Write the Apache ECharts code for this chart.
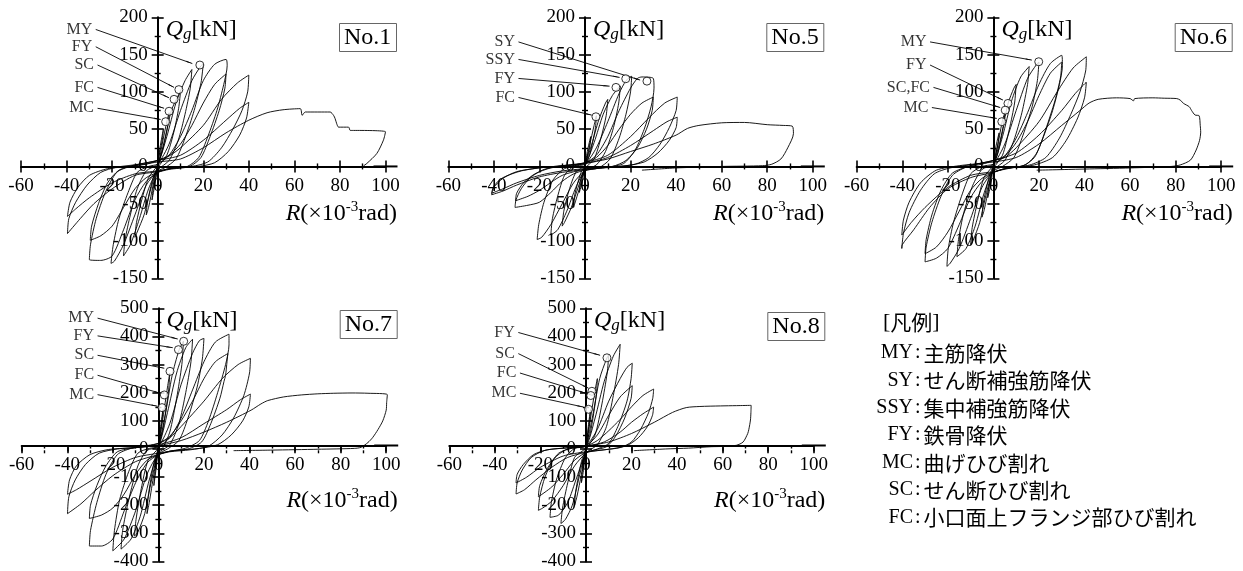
<!DOCTYPE html>
<html><head><meta charset="utf-8">
<script src="https://cdn.jsdelivr.net/npm/echarts@6/dist/echarts.min.js"></script>
<style>html,body{margin:0;padding:0;background:#fff}#c{width:1243px;height:571px}</style>
</head><body><div id="c"></div>
<script>
// ---------- axis settings ----------
const X_MIN = -60, X_MAX = 100, X_STEP = 20;
const Y_TOP = {min:-150, max:200, step:50};
const Y_BOTTOM = {min:-400, max:500, step:100};

// ---------- hysteresis paths (R [x1e-3 rad], Qg [kN]) ----------
const loopNo1 = [[0,0],[1,25],[2.5,50],[2,35],[0,5],[-1,-20],[-2.5,-45],[-2,-30],[0,-3],
[2,30],[4,60],[5,72],[4.5,55],[2,20],[0,2],[-2,-25],[-4,-55],[-5,-65],[-4.5,-48],[-2,-15],[0,0],
[3,35],[6,75],[9,95],[10,100],[9.2,78],[7,45],[4,15],[0,-2],[-3,-30],[-6,-65],[-9,-88],[-10,-95],[-9.3,-75],[-7,-45],[-4,-15],[0,2],
[4,40],[8,85],[12,115],[15,130],[14.3,105],[12,70],[9,35],[5,8],[0,-5],[-4,-30],[-8,-70],[-12,-105],[-15,-120],[-14.3,-98],[-12,-65],[-9,-30],[-5,-6],[0,3],
[5,30],[10,75],[15,115],[19,135],[20,137],[19,112],[16,75],[12,38],[8,10],[3,-2],[0,-6],[-5,-25],[-10,-65],[-15,-105],[-19,-127],[-20.5,-130],[-19.5,-105],[-17,-70],[-13,-35],[-9,-8],[-4,0],[0,3],
[5,15],[10,40],[15,75],[20,115],[25,137],[30,143.5],[30.5,135],[29,110],[26,75],[22,40],[18,12],[13,0],[5,-3],[0,-8],[-5,-20],[-10,-45],[-15,-85],[-20,-120],[-25,-126],[-30,-125],[-29.5,-105],[-27,-70],[-23,-35],[-18,-8],[-12,0],[-5,3],[0,8],
[5,15],[10,30],[15,55],[20,85],[25,110],[30,124],[29.5,105],[27,75],[23,40],[19,12],[14,0],[5,-4],[0,-8],[-5,-15],[-10,-30],[-15,-55],[-20,-80],[-25,-93],[-29.6,-99],[-29,-80],[-26,-50],[-22,-22],[-17,-5],[-10,2],[0,8],
[5,14],[10,25],[20,55],[28,90],[35,112],[40,122.5],[39.5,100],[37,75],[33,50],[28,25],[22,6],[15,0],[5,-3],[0,-7],[-10,-12],[-20,-30],[-28,-50],[-34,-70],[-39.6,-90],[-39,-70],[-36,-48],[-31,-25],[-25,-8],[-18,-1],[-8,3],[0,8],
[10,15],[20,35],[30,62],[36,78],[40,86],[39,65],[36,42],[31,20],[25,5],[18,0],[8,-2],[0,-6],[-10,-10],[-20,-22],[-30,-42],[-36,-57],[-39.6,-67],[-38.5,-48],[-35,-28],[-30,-12],[-22,-3],[-12,0],[0,6],
[10,10],[20,25],[30,45],[40,62],[48,72],[55,76],[62.6,77.5],[63.4,68.5],[64.8,73],[75.7,73],[77.2,68.5],[77.9,64],[78.6,57.2],[79.4,52.7],[83.8,52.7],[84.5,48.3],[86,48.3],[100,46.5],[99.1,35.3],[96.2,17.4],[91.8,4],[90.4,0.9]];

const loopNo5 = [[0,0],[1,20],[2.5,40],[2,25],[0,3],[-1,-18],[-2.5,-35],[-2,-20],[0,0],
[2,28],[4,55],[5,68],[4.5,50],[2,15],[0,0],[-2,-25],[-4,-45],[-5,-55],[-4.5,-38],[-2,-10],[0,2],
[3,30],[6,62],[9,85],[10,90],[9.3,68],[7,38],[4,10],[0,-3],[-3,-28],[-6,-55],[-9,-75],[-10,-80],[-9.3,-60],[-7,-32],[-4,-8],[0,2],
[4,32],[8,70],[12,95],[15.5,108],[14.8,85],[12.5,52],[9,20],[5,2],[0,-5],[-4,-28],[-8,-60],[-12,-85],[-15,-92],[-14.3,-70],[-12,-40],[-9,-12],[-5,0],[0,3],
[5,25],[10,60],[15,98],[18,115],[20.5,121],[20,100],[18,70],[15,38],[11,10],[6,-2],[0,-6],[-5,-22],[-10,-50],[-15,-78],[-19,-95],[-21,-98],[-20.3,-78],[-18,-48],[-14,-18],[-9,-3],[-3,2],[0,4],
[5,15],[10,40],[15,75],[20,105],[23,118],[25,120],[30,118],[30.3,105],[29,80],[26,50],[22,22],[17,4],[10,-1],[0,-5],[-5,-10],[-10,-20],[-15,-35],[-20,-48],[-25,-52],[-30.7,-55],[-30.3,-45],[-28,-30],[-24,-15],[-18,-4],[-10,1],[0,5],
[5,12],[10,28],[15,50],[20,70],[25,85],[30,93],[29.5,75],[27,50],[23,25],[18,8],[12,0],[0,-4],[-10,-12],[-20,-32],[-25,-40],[-30.5,-46],[-30,-36],[-27,-22],[-22,-10],[-15,-2],[-5,2],[0,5],
[10,15],[20,40],[28,65],[35,85],[40.5,93],[40,75],[37,52],[33,30],[28,12],[22,3],[12,-1],[0,-4],[-10,-8],[-20,-14],[-30,-25],[-36,-33],[-41,-38],[-40,-28],[-36,-16],[-30,-7],[-20,-2],[-10,1],[0,4],
[10,12],[20,28],[30,48],[36,60],[40.5,66],[40,52],[37,35],[32,18],[26,6],[18,1],[8,-1],[0,-3],[-10,-6],[-20,-12],[-30,-22],[-36,-30],[-41,-36],[-40,-26],[-36,-15],[-28,-6],[-18,-1],[-8,1],[0,4],
[10,10],[20,20],[30,30],[40,42],[45,51],[50,55],[60,58.5],[70,59],[80,56],[87,55],[91,54],[91.5,44],[89,25],[86,10],[82,3],[78,1],[60,0],[40,-2],[25,-5]];

const loopNo6 = [[0,0],[1,25],[2.5,45],[2,30],[0,3],[-1,-22],[-2.5,-42],[-2,-27],[0,0],
[2,30],[4,62],[5,72],[4.5,55],[2,18],[0,0],[-2,-28],[-4,-58],[-5,-68],[-4.5,-50],[-2,-15],[0,2],
[3,35],[6.5,85],[9,105],[10,110],[9.3,85],[7,50],[4,15],[0,-3],[-3,-35],[-6,-75],[-9,-100],[-10,-105],[-9.3,-82],[-7,-48],[-4,-14],[0,2],
[4,40],[8,88],[12,120],[15.7,134],[15,110],[12.5,72],[9,35],[5,8],[0,-5],[-4,-35],[-8,-80],[-12,-110],[-16,-121],[-15.3,-98],[-13,-62],[-9,-25],[-5,-4],[0,3],
[5,30],[10,75],[15,118],[19,137],[20,140],[19.3,115],[17,80],[13,42],[9,12],[4,0],[0,-6],[-5,-28],[-10,-70],[-15,-110],[-19,-130],[-20.4,-134],[-19.8,-110],[-17.5,-75],[-14,-40],[-10,-10],[-5,0],[0,3],
[5,14],[10,38],[15,72],[20,110],[25,138],[30,149],[30.3,135],[29,110],[26,75],[22,40],[18,12],[13,1],[5,-3],[0,-8],[-5,-20],[-10,-42],[-15,-78],[-20,-110],[-25,-123],[-30,-128],[-29.5,-108],[-27,-75],[-23,-40],[-18,-12],[-12,-1],[-5,3],[0,8],
[5,14],[10,32],[15,60],[20,95],[25,125],[30,140],[29.5,120],[27,88],[23,50],[19,18],[14,2],[5,-3],[0,-8],[-5,-16],[-10,-32],[-15,-60],[-20,-88],[-25,-108],[-30,-117],[-29.5,-98],[-27,-65],[-23,-32],[-18,-9],[-10,1],[0,8],
[5,12],[10,25],[20,60],[28,100],[35,132],[40.8,147],[40.5,128],[38,100],[34,70],[29,38],[23,12],[16,2],[5,-3],[0,-8],[-10,-15],[-20,-30],[-28,-55],[-35,-85],[-40,-105],[-40.2,-110],[-39.5,-90],[-37,-62],[-32,-32],[-26,-10],[-19,-2],[-8,3],[0,8],
[10,18],[20,42],[30,75],[36,98],[40.8,113],[40,92],[37,65],[32,35],[26,12],[18,2],[8,-2],[0,-7],[-10,-12],[-20,-28],[-30,-55],[-36,-75],[-40.2,-92],[-39.5,-72],[-37,-48],[-32,-22],[-25,-5],[-15,1],[0,6],
[10,12],[20,30],[30,55],[38,75],[42,85],[46,90],[54,92],[60,91],[61.5,88],[62,91],[70,92],[75,91.5],[80.5,91],[82,89],[83.5,84.5],[86,80],[87,75],[88.5,69],[90.3,68],[90.8,55],[91,46],[90.5,35],[89,22],[86.5,8.5],[82,2],[78,0],[60,-2],[40,-3.5],[19,-5]];

const loopNo7 = [[0,0],[1,80],[2,140],[1.6,100],[0,10],[-1,-70],[-2,-130],[-1.6,-90],[0,0],
[2,110],[4,220],[5,270],[4.5,210],[2,70],[0,5],[-2,-90],[-4,-190],[-5,-230],[-4.5,-170],[-2,-50],[0,5],
[3,120],[6,260],[9,350],[11,383],[10.3,300],[8,180],[5,60],[2,5],[0,-10],[-3,-110],[-6,-230],[-9,-295],[-10.5,-310],[-9.8,-250],[-7.5,-140],[-4.5,-40],[0,5],
[4,130],[8,270],[12,360],[15,390],[14.3,310],[12,200],[9,90],[5,15],[0,-15],[-4,-110],[-8,-240],[-12,-320],[-16.4,-356],[-15.7,-290],[-13,-180],[-9,-60],[-5,-5],[0,8],
[5,90],[10,230],[15,340],[18,385],[20,393],[19.3,320],[17,220],[13,110],[9,30],[4,0],[0,-18],[-5,-90],[-10,-220],[-15,-320],[-19,-355],[-20,-362],[-19.3,-290],[-17,-180],[-13,-80],[-9,-15],[-4,2],[0,8],
[5,40],[10,110],[15,210],[20,310],[25,380],[31,408],[31,370],[29.5,300],[26,200],[22,100],[18,30],[12,3],[5,-8],[0,-20],[-5,-50],[-10,-120],[-15,-220],[-20,-320],[-25,-345],[-30.3,-345],[-29.8,-290],[-27,-190],[-23,-90],[-18,-20],[-12,2],[-5,10],[0,20],
[5,45],[10,100],[15,170],[20,250],[25,310],[30.5,339],[30,300],[29.5,262],[28.8,240],[27,180],[23,90],[19,25],[13,0],[5,-8],[0,-20],[-5,-40],[-10,-90],[-15,-160],[-20,-210],[-25,-235],[-30.3,-247],[-29.8,-200],[-27,-130],[-23,-60],[-18,-10],[-10,5],[0,20],
[5,40],[10,80],[20,170],[28,250],[35,300],[40.4,322],[40,270],[37.5,190],[33,110],[28,50],[22,10],[14,-3],[5,-10],[0,-20],[-10,-45],[-20,-95],[-28,-150],[-34,-195],[-39.9,-230],[-39.3,-170],[-36.5,-110],[-32,-55],[-26,-15],[-18,0],[-8,6],[0,15],
[10,40],[20,90],[30,140],[36,175],[40.4,195],[39.7,150],[37,100],[32,50],[26,15],[18,2],[8,-5],[0,-15],[-10,-30],[-20,-65],[-30,-115],[-36,-145],[-39.9,-161],[-39,-110],[-36,-60],[-30,-20],[-22,-2],[-12,4],[0,12],
[10,30],[20,60],[30,95],[40.7,138],[45,160],[48,172],[55,185],[62.7,192],[70,196],[77,198],[85,199],[92,198],[100.5,193],[100.2,165],[100,138],[98.5,100],[96.4,69],[94,40],[92,23],[89,6],[86,2],[70,-1],[50,-4],[33,-6]];

const loopNo8 = [[0,0],[1,80],[2,140],[1.6,100],[0,10],[-1,-70],[-2,-120],[-1.6,-80],[0,0],
[2,110],[4,210],[5,250],[4.5,190],[2,60],[0,5],[-2,-90],[-4,-170],[-5,-200],[-4.5,-150],[-2,-45],[0,5],
[3,120],[6,250],[9,320],[10,335],[9.3,270],[7,160],[4,50],[0,-5],[-3,-100],[-6,-200],[-9,-250],[-11,-265],[-10.3,-210],[-8,-120],[-5,-30],[0,5],
[4,110],[8,240],[12,330],[15,372],[14.3,300],[12,190],[9,80],[5,15],[0,-15],[-4,-100],[-8,-190],[-12,-235],[-15.8,-243],[-15.2,-190],[-13,-110],[-9,-30],[-5,2],[0,10],
[5,70],[10,170],[15,250],[18,290],[20.3,305],[19.8,250],[18,170],[14,80],[10,20],[5,0],[0,-15],[-5,-60],[-10,-130],[-15,-185],[-19,-210],[-20.9,-218],[-20.3,-170],[-18,-100],[-14,-35],[-9,-3],[-4,5],[0,10],
[5,50],[10,120],[15,185],[20.3,225],[19.8,180],[17,110],[13,45],[9,8],[4,-3],[0,-12],[-5,-40],[-10,-90],[-15,-135],[-20.9,-170],[-20.3,-130],[-17,-70],[-12,-15],[-6,3],[0,10],
[5,30],[10,65],[15,105],[20,150],[25,190],[29.7,213],[29.3,180],[27.5,130],[24,70],[20,25],[15,5],[8,-3],[0,-12],[-8,-30],[-15,-65],[-22,-110],[-27,-145],[-30.7,-160],[-30.2,-120],[-28,-75],[-24,-30],[-18,-5],[-10,3],[0,10],
[8,25],[15,60],[20,95],[25,125],[29.7,149],[29.2,120],[27,80],[23,40],[18,12],[10,-1],[0,-10],[-10,-25],[-20,-65],[-26,-100],[-30.7,-121],[-30.2,-90],[-27.5,-55],[-23,-20],[-17,-3],[-8,4],[0,10],
[10,25],[20,55],[30,95],[38,130],[44,147],[50,151],[59,153],[66,154],[72.5,155],[72.4,130],[72.2,103],[71.5,70],[71,55],[69,25],[66,13],[60,9],[55,8],[45,3],[35,0],[21,-6]];

// ---------- event markers ----------
const eventsNo1 = ['MY','FY','SC','FC','MC'];
const eventPtsNo1 = [[18.5,136],[9.3,103],[7.2,90],[5,74],[3.5,60]];
const labelPtsNo1 = [[-27.2,183.7],[-27.2,160.5],[-26.4,136],[-26.4,106],[-26.4,78]];
const arrowEndsNo1 = [[15.2,138],[7.2,106],[5,92],[2.8,78],[1.3,63]];

const eventsNo5 = ['SY','SSY','FY','FC'];
const eventPtsNo5 = [[27.2,114.4],[17.9,117.6],[13.6,106],[4.8,66.6]];
const labelPtsNo5 = [[-29.2,167],[-29.2,143.5],[-29.2,118],[-29.2,92.5]];
const arrowEndsNo5 = [[24.2,115.8],[15.2,119.4],[10.8,107.7],[3,68.8]];

const eventsNo6 = ['MY','FY','SC,FC','MC'];
const eventPtsNo6 = [[19.9,140.4],[6.4,84.5],[5.2,75.5],[3.7,60]];
const labelPtsNo6 = [[-27.8,167],[-27.8,136],[-26.3,106],[-27,79]];
const arrowEndsNo6 = [[16.9,142.6],[4.2,89],[3,79],[1.5,64.4]];

const eventsNo7 = ['MY','FY','SC','FC','MC'];
const eventPtsNo7 = [[11.1,382.8],[8.8,352.9],[5.1,276],[2.6,192],[1.6,147]];
const labelPtsNo7 = [[-26.7,465],[-26.7,402],[-26.7,333],[-26.7,262],[-26.7,193]];
const arrowEndsNo7 = [[8.5,390.8],[6.3,360],[2.6,287],[0.9,198],[-0.3,151.7]];

const eventsNo8 = ['FY','SC','FC','MC'];
const eventPtsNo8 = [[9.2,324],[2.6,205],[2.1,190],[1.1,141]];
const labelPtsNo8 = [[-29.7,414],[-29.7,339],[-29,270],[-29,198]];
const arrowEndsNo8 = [[6.2,333],[1.1,216],[0,198],[-1.1,149]];

// ---------- legend ----------
const legendTitle = '凡例';
const legendCodes = ['MY','SY','SSY','FY','MC','SC','FC'];
const legendDescs = ['主筋降伏','せん断補強筋降伏','集中補強筋降伏','鉄骨降伏','曲げひび割れ','せん断ひび割れ','小口面上フランジ部ひび割れ'];

// ---------- layout ----------
const SERIF = '"Liberation Serif","Times New Roman",serif';
const CJK = '"Noto Sans CJK JP",sans-serif';
const W = 364.5, H = 261, PANEL_W = 376;
const panels = [
  {name:'No.1', left:21, top:17.3, ys:Y_TOP, boxTop:23, loop:loopNo1, ev:eventsNo1, pts:eventPtsNo1, lab:labelPtsNo1, arr:arrowEndsNo1},
  {name:'No.5', left:448.3, top:17.3, ys:Y_TOP, boxTop:23, loop:loopNo5, ev:eventsNo5, pts:eventPtsNo5, lab:labelPtsNo5, arr:arrowEndsNo5},
  {name:'No.6', left:856.7, top:17.3, ys:Y_TOP, boxTop:23, loop:loopNo6, ev:eventsNo6, pts:eventPtsNo6, lab:labelPtsNo6, arr:arrowEndsNo6},
  {name:'No.7', left:21.7, top:308.3, ys:Y_BOTTOM, boxTop:310, loop:loopNo7, ev:eventsNo7, pts:eventPtsNo7, lab:labelPtsNo7, arr:arrowEndsNo7},
  {name:'No.8', left:449.3, top:308.3, ys:Y_BOTTOM, boxTop:312, loop:loopNo8, ev:eventsNo8, pts:eventPtsNo8, lab:labelPtsNo8, arr:arrowEndsNo8}
];

const option = {animation:false, backgroundColor:'#fff', grid:[], xAxis:[], yAxis:[], series:[], title:[], graphic:{elements:[]}};
const tickStyle = {color:'#000', width:1.6};
const minorStyle = {color:'#000', width:1.4};
const lineStyleAxis = {color:'#000', width:2};
const labelFont = {fontFamily:SERIF, fontSize:19, color:'#000'};

panels.forEach((p, i) => {
  const ys = p.ys;
  option.grid.push({left:p.left, top:p.top, width:W, height:H});
  // pixel distances from the grid edges to the zero lines (axes cross at the origin)
  const zeroFromBottom = H * (0 - ys.min) / (ys.max - ys.min);
  const zeroFromTop = H - zeroFromBottom;
  const zeroFromLeft = W * (0 - X_MIN) / (X_MAX - X_MIN);
  const zeroFromRight = W - zeroFromLeft;
  const xBase = {type:'value', gridIndex:i, min:X_MIN, max:X_MAX, interval:X_STEP, splitLine:{show:false},
    axisTick:{show:true, length:6, lineStyle:tickStyle},
    minorTick:{show:true, splitNumber:2, length:3, lineStyle:minorStyle}};
  option.xAxis.push(Object.assign({}, xBase, {position:'bottom', offset:-zeroFromBottom,
    axisLine:{show:true, onZero:false, lineStyle:lineStyleAxis, symbol:['none','rect'], symbolSize:[2,24]},
    axisLabel:Object.assign({show:true, margin:10}, labelFont)}));
  option.xAxis.push(Object.assign({}, xBase, {position:'top', offset:-zeroFromTop,
    axisLine:{show:false, onZero:false}, axisLabel:{show:false}}));
  const yBase = {type:'value', gridIndex:i, min:ys.min, max:ys.max, interval:ys.step, splitLine:{show:false},
    axisTick:{show:true, length:6, lineStyle:tickStyle},
    minorTick:{show:true, splitNumber:2, length:3, lineStyle:minorStyle}};
  option.yAxis.push(Object.assign({}, yBase, {position:'left', offset:-zeroFromLeft,
    axisLine:{show:true, onZero:false, lineStyle:lineStyleAxis},
    axisLabel:Object.assign({show:true, margin:10}, labelFont)}));
  option.yAxis.push(Object.assign({}, yBase, {position:'right', offset:-zeroFromRight,
    axisLine:{show:false, onZero:false}, axisLabel:{show:false}}));

  const xi = 2*i, yi = 2*i;
  option.series.push({type:'line', xAxisIndex:xi, yAxisIndex:yi, data:p.loop, symbol:'none', showSymbol:false,
    smooth:0.25, lineStyle:{color:'#000', width:0.9}, silent:true, z:2});
  option.series.push({type:'scatter', xAxisIndex:xi, yAxisIndex:yi, data:p.pts, symbol:'circle', symbolSize:8,
    itemStyle:{color:'#fff', borderColor:'#000', borderWidth:1}, silent:true, z:6});
  option.series.push({type:'scatter', xAxisIndex:xi, yAxisIndex:yi,
    data:p.lab.map((q,k)=>[q[0], q[1], p.ev[k]]), symbolSize:1, itemStyle:{color:'rgba(0,0,0,0)'},
    label:{show:true, position:'left', distance:3, formatter:(d)=>d.value[2], fontFamily:SERIF, fontSize:16, color:'#000'},
    silent:true, z:5,
    markLine:{silent:true, animation:false, symbol:['none','arrow'], symbolSize:[1,7],
      lineStyle:{color:'#000', width:0.9, type:'solid'}, label:{show:false}, emphasis:{disabled:true},
      data:p.lab.map((q,k)=>[{coord:q},{coord:p.arr[k]}])}});

  option.title.push({text:p.name, left:p.left + PANEL_W - 58, top:p.boxTop, borderColor:'#666', borderWidth:1,
    padding:[2,5,2,5], textStyle:{fontFamily:SERIF, fontSize:24, fontWeight:'normal', color:'#000', lineHeight:25}});

  const x0 = p.left + zeroFromLeft;
  const y0 = p.top + zeroFromTop;
  option.graphic.elements.push({type:'text', x:x0 + 8, y:p.top - 2, silent:true, style:{
    text:'{i|Q}{s|g}{n|[kN]}', align:'left', verticalAlign:'top', fill:'#000',
    rich:{i:{fontFamily:SERIF, fontStyle:'italic', fontSize:24, lineHeight:28, fill:'#000'},
          s:{fontFamily:SERIF, fontStyle:'italic', fontSize:17, lineHeight:17, verticalAlign:'bottom', fill:'#000'},
          n:{fontFamily:SERIF, fontSize:24, lineHeight:28, fill:'#000'}}}});
  option.graphic.elements.push({type:'text', x:p.left + PANEL_W, y:y0 + 47, silent:true, style:{
    text:'{i|R}{n|(×10}{s|-3}{n|rad)}', align:'right', verticalAlign:'middle', fill:'#000',
    rich:{i:{fontFamily:SERIF, fontStyle:'italic', fontSize:24, lineHeight:28, fill:'#000'},
          s:{fontFamily:SERIF, fontSize:15, lineHeight:15, verticalAlign:'top', fill:'#000'},
          n:{fontFamily:SERIF, fontSize:24, lineHeight:28, fill:'#000'}}}});
});

// legend block
const legendX = 913, legendTitleY = 322, legendFirstY = 353, legendStep = 27.4;
option.graphic.elements.push({type:'text', x:883, y:legendTitleY, silent:true, style:{
  text:'{l|[}{j|' + legendTitle + '}{l|]}', align:'left', verticalAlign:'middle', fill:'#000',
  rich:{l:{fontFamily:SERIF, fontSize:22, fill:'#000'}, j:{fontFamily:CJK, fontSize:21, fill:'#000'}}}});
legendCodes.forEach((c, k) => {
  const y = legendFirstY + k * legendStep;
  option.graphic.elements.push({type:'text', x:legendX, y:y, silent:true, style:{
    text:c, align:'right', verticalAlign:'middle', fontFamily:SERIF, fontSize:20, fill:'#000'}});
  option.graphic.elements.push({type:'text', x:legendX + 2, y:y, silent:true, style:{
    text:'{c|:}{j|' + legendDescs[k] + '}', align:'left', verticalAlign:'middle', fill:'#000',
    rich:{c:{fontFamily:SERIF, fontSize:20, padding:[0,3,0,0], fill:'#000'}, j:{fontFamily:CJK, fontSize:21, fill:'#000'}}}});
});

const chart = echarts.init(document.getElementById('c'), null, {renderer:'canvas'});
chart.setOption(option);
</script>
</body></html>
